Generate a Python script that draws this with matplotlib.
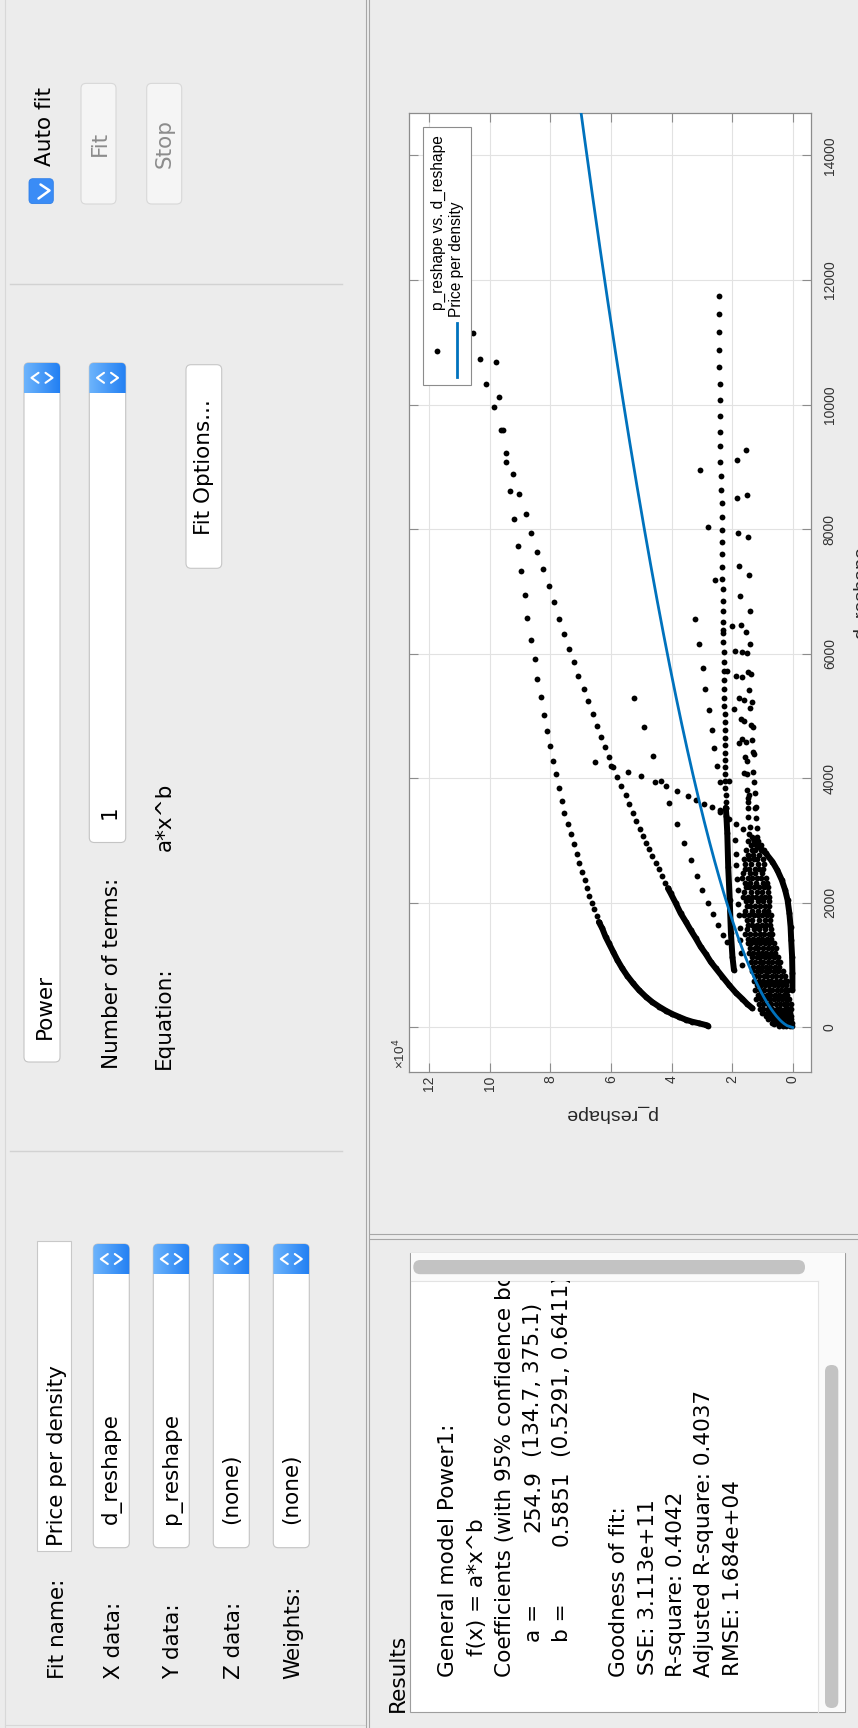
import numpy as np
import matplotlib
matplotlib.use("Agg")
import matplotlib.pyplot as plt
from matplotlib.patches import Rectangle, FancyBboxPatch
from matplotlib.colors import LinearSegmentedColormap
from matplotlib.ticker import FuncFormatter
from matplotlib.transforms import Bbox

W, H = 858, 1728
BG = "#ececec"
GUI_FONT = "DejaVu Sans"
GUI_SIZE = 15.5
RES_SIZE = 15.6
AX_FONT = "Liberation Sans"
BLUE = "#0072bd"
SCALE = 1e4  # p_reshape values are listed in units of 1e4

# ---------------- data: p_reshape (x1e4) against d_reshape ----------------
# outer arc, sparse part
outer_d = [11147, 10333, 9955, 9585, 9595, 9226, 9081, 8884, 8616, 8161, 7728, 7322, 6942,
           6577, 6224, 5910, 5598, 5309, 5020, 4759, 4513, 4277, 4064, 3839, 3635, 3448,
           3266, 3101, 2940, 2780, 2635, 2496, 2362, 2239, 2115, 2003, 1897, 1790, 1693]
outer_p = [10.56, 10.12, 9.87, 9.64, 9.57, 9.46, 9.46, 9.24, 9.33, 9.20, 9.08, 8.96, 8.85,
           8.76, 8.63, 8.52, 8.43, 8.31, 8.22, 8.10, 8.01, 7.92, 7.81, 7.71, 7.62, 7.54,
           7.41, 7.32, 7.23, 7.13, 7.05, 6.96, 6.87, 6.78, 6.72, 6.64, 6.55, 6.47, 6.40]
# outer arc, packed part near the origin
outer_band_d = [1693, 1592, 1457, 1351, 1217, 1083, 950, 827, 709, 602, 494, 409, 334, 270,
                217, 169, 125, 93, 67, 40, 29]
outer_band_p = [6.40, 6.29, 6.18, 6.07, 5.93, 5.79, 5.63, 5.46, 5.27, 5.08, 4.85, 4.64, 4.41,
                4.19, 3.98, 3.75, 3.53, 3.32, 3.09, 2.87, 2.80]

# inner arc
inner_d = [10729, 10686, 10115, 8558, 8237, 7932, 7637, 7354, 7086, 6824, 6561, 6311, 6080,
           5861, 5642, 5428, 5240, 5032, 4844, 4667, 4497, 4337, 4192, 4181, 4020, 3871,
           3727, 3582, 3438, 3314, 3191, 3079, 2966, 2860, 2753, 2645, 2539, 2432, 2324, 2234]
inner_p = [10.32, 9.81, 9.70, 9.04, 8.82, 8.63, 8.45, 8.25, 8.06, 7.89, 7.73, 7.56, 7.38,
           7.23, 7.08, 6.90, 6.75, 6.60, 6.45, 6.34, 6.19, 6.07, 6.01, 5.92, 5.79, 5.67,
           5.51, 5.40, 5.28, 5.16, 5.04, 4.93, 4.83, 4.74, 4.64, 4.52, 4.41, 4.31, 4.22, 4.12]
inner_band_d = [2234, 2154, 1993, 1833, 1698, 1565, 1432, 1297, 1180, 1056, 950, 815, 682,
                559, 457, 377, 308]
inner_band_p = [4.12, 4.03, 3.86, 3.70, 3.53, 3.37, 3.20, 3.04, 2.87, 2.71, 2.54, 2.32, 2.10,
                1.88, 1.66, 1.50, 1.33]

# diagonal run and crossing run
diag_d = [5293, 4818, 4362, 3598, 3261, 2966, 2688, 2436, 2207, 2003, 1817, 1650, 1489, 1377]
diag_p = [5.25, 4.92, 4.62, 4.07, 3.81, 3.58, 3.36, 3.15, 2.98, 2.80, 2.62, 2.47, 2.31, 2.18]
cross_d = [4261, 4101, 4032, 3945, 3961, 3876, 3801, 3720, 3651, 3582, 3534, 3454, 3342,
           3266, 3181, 3101, 3021]
cross_p = [6.54, 5.45, 5.00, 4.56, 4.35, 4.17, 3.81, 3.47, 3.20, 2.94, 2.66, 2.41, 2.10,
           1.86, 1.63, 1.44, 1.28]
lean_d = [8948, 8033, 7177, 6561, 6155, 5775, 5428, 5096, 4775, 4486, 4202, 3940, 3491]
lean_p = [3.05, 2.80, 2.56, 3.22, 3.09, 2.97, 2.89, 2.76, 2.67, 2.59, 2.49, 2.41, 2.40]

# near-vertical column
column_d = [11746, 11452, 11163, 10874, 10597, 10333, 10076, 9809, 9563, 9328, 9081, 8847,
            8627, 8413, 8193, 7990, 7787, 7595, 7391, 7203, 7033, 6850, 6680, 6508, 6380,
            6337, 6182, 6022, 5866, 5717, 5573, 5433, 5293, 5160, 5027, 4898, 4770, 4646,
            4529, 4411, 4293, 4181, 4069, 3956, 3844, 3732, 3624, 3528]
column_p = [2.43, 2.43, 2.43, 2.43, 2.42, 2.41, 2.41, 2.41, 2.40, 2.40, 2.39, 2.38,
            2.36, 2.35, 2.35, 2.34, 2.34, 2.33, 2.32, 2.32, 2.31, 2.31, 2.30, 2.30, 2.29,
            2.29, 2.29, 2.28, 2.28, 2.27, 2.27, 2.27, 2.26, 2.26, 2.25, 2.25, 2.25, 2.24,
            2.24, 2.23, 2.23, 2.23, 2.22, 2.22, 2.22, 2.21, 2.21, 2.21]
column_band_d = [3528, 3400, 3117, 2581, 2046, 1512, 1136, 923]
column_band_p = [2.21, 2.19, 2.16, 2.13, 2.08, 2.04, 1.99, 1.94]

# scattered pairs right of the column
right_d = [9108, 9269, 8498, 8542, 7942, 7873, 7407, 7258, 6926, 6680, 6449, 6455, 6343,
           6155, 6038, 6032, 6006, 5717, 5646, 5630, 5701, 5674, 5412, 5293, 5256, 5219,
           5133, 5107, 4947, 4924, 4855, 4818, 4635, 4561, 4587, 4614, 4427, 4390, 4346,
           4277, 4080, 4069, 4096, 3945, 3812, 3732, 3759, 3624, 3534, 3961, 3679, 3518,
           3518, 3383, 3357, 3223, 3197, 3062, 3062]
right_p = [1.85, 1.53, 1.83, 1.50, 1.80, 1.47, 1.77, 1.44, 1.74, 1.42, 1.99, 1.72, 1.53,
           1.42, 1.92, 1.68, 1.51, 2.16, 1.86, 1.66, 1.47, 1.39, 1.44, 1.77, 1.62, 1.35,
           1.42, 1.95, 1.72, 1.61, 1.39, 1.31, 1.66, 1.77, 1.55, 1.35, 1.31, 1.28, 1.58,
           1.50, 1.61, 1.50, 1.31, 1.28, 1.50, 1.44, 1.24, 1.47, 1.22, 2.10, 1.49, 1.49,
           1.24, 1.47, 1.21, 1.41, 1.19, 1.35, 1.19]
strand_d = [3010, 2790, 2610, 2390, 2210, 1980, 1810, 1590, 1410, 1190, 1010]
strand_p = [1.91, 1.87, 1.86, 1.83, 1.82, 1.79, 1.78, 1.75, 1.74, 1.71, 1.69]

# right-hand arc dropping to the axis
arc_d = [3021, 2929, 2796, 2661, 2528, 2367, 2207, 2046, 1833, 1618, 1404, 1136, 870, 602]
arc_p = [1.28, 1.17, 0.89, 0.67, 0.51, 0.36, 0.25, 0.17, 0.11, 0.07, 0.05, 0.02, 0.01, 0.01]

# fan of points near the origin, one row of p values per d level
fan_levels = [3000, 2925, 2850, 2775, 2700, 2625, 2550, 2475, 2400, 2325, 2250, 2175, 2100,
              2025, 1950, 1875, 1800, 1725, 1650, 1575, 1500, 1425, 1350, 1275, 1200, 1125,
              1050, 975, 900, 825, 750, 675, 600, 525, 450, 375, 300, 240, 180, 130, 80,
              50, 20]
fan_rows = [
    [1.46, 1.27, 1.13],
    [1.39, 1.21, 1.04],
    [1.53, 1.35, 1.24, 1.06, 0.94],
    [1.49, 1.31, 1.12],
    [1.61, 1.44, 1.29, 1.17, 0.99],
    [1.56, 1.37, 1.14, 0.96],
    [1.59, 1.45, 1.26, 1.11, 0.97],
    [1.63, 1.41, 1.23, 1.03],
    [1.66, 1.49, 1.36, 1.18, 1.06, 0.89],
    [1.58, 1.41, 1.21, 0.99, 0.85],
    [1.55, 1.43, 1.28, 1.10, 0.96, 0.82],
    [1.60, 1.37, 1.19, 1.00, 0.81],
    [1.64, 1.48, 1.33, 1.21, 1.04, 0.91, 0.77],
    [1.55, 1.38, 1.15, 0.97, 0.79],
    [1.52, 1.40, 1.24, 1.07, 0.92, 0.77],
    [1.57, 1.34, 1.16, 0.94, 0.80],
    [1.61, 1.44, 1.29, 1.13, 1.01, 0.86, 0.71],
    [1.51, 1.33, 1.10, 0.92, 0.75],
    [1.47, 1.35, 1.19, 1.02, 0.87, 0.74],
    [1.52, 1.29, 1.11, 0.91, 0.71],
    [1.56, 1.41, 1.24, 1.09, 0.96, 0.79, 0.67],
    [1.46, 1.31, 1.14, 1.00, 0.85, 0.71],
    [1.49, 1.37, 1.21, 1.07, 0.93, 0.79, 0.61],
    [1.41, 1.25, 1.13, 0.97, 0.83, 0.67, 0.55],
    [1.44, 1.31, 1.15, 1.03, 0.87, 0.73, 0.59],
    [1.35, 1.19, 1.07, 0.91, 0.77, 0.63, 0.47],
    [1.37, 1.25, 1.09, 0.97, 0.81, 0.69, 0.51, 0.41],
    [1.31, 1.15, 1.03, 0.87, 0.75, 0.59, 0.45],
    [1.33, 1.17, 1.05, 0.89, 0.77, 0.61, 0.49, 0.33],
    [1.24, 1.12, 0.96, 0.84, 0.68, 0.56, 0.40, 0.27],
    [1.27, 1.11, 0.99, 0.83, 0.71, 0.55, 0.43, 0.27, 0.19],
    [1.18, 1.06, 0.90, 0.78, 0.62, 0.50, 0.34, 0.23],
    [1.23, 1.07, 0.95, 0.79, 0.67, 0.51, 0.39, 0.25, 0.15],
    [1.14, 1.02, 0.86, 0.74, 0.58, 0.46, 0.30, 0.19],
    [1.21, 1.04, 0.91, 0.75, 0.63, 0.47, 0.35, 0.21, 0.11],
    [1.11, 0.99, 0.83, 0.71, 0.55, 0.43, 0.29, 0.18, 0.07],
    [1.09, 0.97, 0.81, 0.69, 0.53, 0.41, 0.27, 0.15, 0.06],
    [1.01, 0.85, 0.73, 0.57, 0.45, 0.31, 0.21, 0.08],
    [0.89, 0.77, 0.61, 0.49, 0.35, 0.25, 0.11, 0.04],
    [0.81, 0.65, 0.53, 0.39, 0.29, 0.15, 0.06],
    [0.69, 0.57, 0.41, 0.31, 0.17, 0.09, 0.02],
    [0.61, 0.45, 0.35, 0.21, 0.13, 0.04],
    [0.46, 0.31, 0.21, 0.09, 0.02],
]

# Power1 fit reported in the results pane
fit_a = 254.9
fit_b = 0.5851

p_ticks = [0, 2, 4, 6, 8, 10, 12]
d_ticks = [0, 2000, 4000, 6000, 8000, 10000, 12000, 14000]

fan_d = [lvl for lvl, row in zip(fan_levels, fan_rows) for _ in row]
fan_p = [v for row in fan_rows for v in row]

# ---------------- figure and the pixel-space GUI layer ----------------
fig = plt.figure(figsize=(W / 100, H / 100), dpi=100, facecolor=BG)
gui = fig.add_axes([0, 0, 1, 1])
gui.set_facecolor(BG)
gui.axis("off")

blue_cmap = LinearSegmentedColormap.from_list("combo", ["#6db4fc", "#2380f3"])
grad = np.linspace(0, 1, 64).reshape(1, -1)


def vtext(x, y, s, ha="left", size=GUI_SIZE, color="black", family=GUI_FONT, ax=None):
    ax = ax or gui
    return ax.text(x, y, s, rotation=90, rotation_mode="anchor", ha=ha, va="baseline",
                   fontsize=size, color=color, family=family, zorder=6)


def chevrons(cx, cy):
    kw = dict(color="white", lw=1.5, solid_capstyle="round", solid_joinstyle="round", zorder=5)
    gui.plot([cx - 3.5, cx - 10.5, cx - 3.5], [cy - 5, cy, cy + 5], **kw)
    gui.plot([cx + 3.5, cx + 10.5, cx + 3.5], [cy - 5, cy, cy + 5], **kw)


def combo(x0, x1, y0, y1):
    shape = FancyBboxPatch((x0, y0), x1 - x0, y1 - y0,
                           boxstyle="round,pad=0,rounding_size=5",
                           fc="white", ec="#c4c4c4", lw=0.8, zorder=2)
    gui.add_patch(shape)
    im = gui.imshow(grad, cmap=blue_cmap, extent=(x0, x1, y0 + 30, y0), aspect="auto",
                    interpolation="bilinear", zorder=3)
    im.set_clip_path(shape)
    chevrons((x0 + x1) / 2, y0 + 15)


def button(x0, x1, y0, y1, fc, ec):
    gui.add_patch(FancyBboxPatch((x0, y0), x1 - x0, y1 - y0,
                                 boxstyle="round,pad=0,rounding_size=5",
                                 fc=fc, ec=ec, lw=0.8, zorder=2))


# panel dividers
for x in (365.7, 369.3):
    gui.plot([x, x], [0, H], color="#a6a6a6", lw=0.8, zorder=1)
for y in (1234.0, 1238.5):
    gui.plot([370, W], [y, y], color="#a6a6a6", lw=0.8, zorder=1)
gui.plot([5, 5], [0, H], color="#d8d8d8", lw=0.8, zorder=1)
gui.plot([5, 365], [1724.5, 1724.5], color="#d8d8d8", lw=0.8, zorder=1)
for y in (283.6, 1151.0):
    gui.plot([10, 342], [y, y], color="#d2d2d2", lw=1.0, zorder=1)

# auto fit checkbox and buttons
gui.add_patch(FancyBboxPatch((29, 178.7), 24.3, 24.9, boxstyle="round,pad=0,rounding_size=4",
                             fc="#3a8cf6", ec="#2f7fe8", lw=0.6, zorder=2))
gui.plot([40.5, 49.5, 38.5], [184.5, 190.5, 198.5], color="white", lw=1.8,
         solid_capstyle="round", solid_joinstyle="round", zorder=4)
vtext(51.0, 166.5, "Auto fit")
button(81, 116, 83.4, 204, "#f5f5f5", "#d8d8d8")
button(146.7, 181.7, 83.4, 204, "#f5f5f5", "#d8d8d8")
vtext(105.5, 143.7, "Fit", ha="center", color="#8c8c8c")
vtext(170.5, 143.7, "Stop", ha="center", color="#8c8c8c")

# fit type section
combo(24, 60, 362.8, 1062)
vtext(51.0, 1039, "Power")
combo(89.3, 125.7, 362.8, 842.5)
vtext(116.0, 812, "1", ha="center")
vtext(118.0, 1069.3, "Number of terms:")
vtext(169.5, 1069.3, "Equation:")
vtext(171.0, 851.4, "a*x^b")
button(186, 221.7, 364.7, 568.3, "white", "#c6c6c6")
vtext(210.0, 466.9, "Fit Options...", ha="center")

# data selection section
gui.add_patch(Rectangle((37.3, 1241), 33.4, 309.5, fc="white", ec="#c8c8c8", lw=0.8, zorder=2))
vtext(63.0, 1546.5, "Price per density")
vtext(64.5, 1678.7, "Fit name:")
rows = [("X data:", "d_reshape", 93.3), ("Y data:", "p_reshape", 153.3),
        ("Z data:", "(none)", 213.3), ("Weights:", "(none)", 273.3)]
for label, value, x0 in rows:
    combo(x0, x0 + 36, 1244, 1547.7)
    vtext(x0 + 26.2, 1678.7, label)
    vtext(x0 + 23.4, 1524.5, value)

# results pane
vtext(404, 1712, "Results", size=RES_SIZE)
gui.add_patch(Rectangle((410, 1252.7), 435, 459.3, fc="white", ec="#9d9d9d", lw=0.8, zorder=2))
gui.add_patch(Rectangle((410.5, 1253.2), 434, 27.8, fc="#fafafa", ec="none", zorder=2))
gui.add_patch(Rectangle((818.3, 1281), 26.2, 430.5, fc="#fafafa", ec="none", zorder=2))
gui.plot([410.5, 818.3], [1281, 1281], color="#e3e3e3", lw=0.8, zorder=3)
gui.plot([818.3, 818.3], [1281, 1711.5], color="#e3e3e3", lw=0.8, zorder=3)
gui.add_patch(FancyBboxPatch((413.3, 1260), 391.7, 14.2, boxstyle="round,pad=0,rounding_size=7",
                             fc="#c3c3c3", ec="none", zorder=4))
gui.add_patch(FancyBboxPatch((825, 1365), 13.3, 343, boxstyle="round,pad=0,rounding_size=6.5",
                             fc="#c3c3c3", ec="none", zorder=4))

text_clip = Bbox.from_extents(411, H - 1711, 818, H - 1281)
results_lines = [
    (454.0, 1677, "General model Power1:"),
    (482.5, 1656, "f(x) = a*x^b"),
    (511.0, 1677, "Coefficients (with 95% confidence bounds):"),
    (539.5, 1642, "a ="), (539.5, 1532, "254.9"), (539.5, 1457, "(134.7, 375.1)"),
    (568.0, 1642, "b ="), (568.0, 1546, "0.5851"), (568.0, 1457, "(0.5291, 0.6411)"),
    (625.0, 1677, "Goodness of fit:"),
    (653.5, 1675, "SSE: 3.113e+11"),
    (682.0, 1677, "R-square: 0.4042"),
    (710.5, 1677, "Adjusted R-square: 0.4037"),
    (739.0, 1676, "RMSE: 1.684e+04"),
]
for x, y, s in results_lines:
    t = vtext(x, y, s, size=RES_SIZE)
    t.set_clip_box(text_clip)
    t.set_clip_on(True)

gui.set_xlim(0, W)
gui.set_ylim(H, 0)

# ---------------- the fit plot ----------------
ax = fig.add_axes([409 / W, 1 - 1072.1 / H, 402 / W, 958.9 / H], zorder=2)
ax.set_facecolor("white")
for sp in ax.spines.values():
    sp.set_color("#8c8c8c")
    sp.set_linewidth(0.9)

dot = dict(ls="none", marker="o", ms=4.2, mfc="black", mec="black", mew=0, zorder=3)
band = dict(color="black", lw=4.3, solid_capstyle="round", solid_joinstyle="round", zorder=3)

scatter_groups = [(outer_p, outer_d), (inner_p, inner_d), (diag_p, diag_d),
                  (cross_p, cross_d), (lean_p, lean_d), (column_p, column_d),
                  (right_p, right_d), (strand_p, strand_d), (fan_p, fan_d),
                  (outer_band_p, outer_band_d), (inner_band_p, inner_band_d),
                  (column_band_p, column_band_d), (arc_p, arc_d)]
for pp, dd in scatter_groups:
    ax.plot(np.asarray(pp) * SCALE, dd, **dot)
for pp, dd in [(outer_band_p, outer_band_d), (inner_band_p, inner_band_d),
               (column_band_p, column_band_d), (arc_p, arc_d)]:
    ax.plot(np.asarray(pp) * SCALE, dd, **band)

d_line = np.linspace(0, 15000, 500)
ax.plot(fit_a * d_line ** fit_b, d_line, color=BLUE, lw=2.0, zorder=4)

ax.set_xlim(12.67e4, -0.604e4)
ax.set_ylim(-716, 14677)
ax.set_xticks([v * SCALE for v in p_ticks])
ax.set_yticks(d_ticks)
ax.xaxis.set_major_formatter(FuncFormatter(lambda v, _: f"{v / SCALE:g}"))
ax.yaxis.set_major_formatter(FuncFormatter(lambda v, _: f"{v:g}"))
ax.grid(True, color="#e2e2e2", lw=0.8)
ax.set_axisbelow(True)
ax.tick_params(direction="in", length=6.5, width=0.8, color="#8c8c8c", top=True, right=True,
               labelcolor="#333333", labelsize=10, labelfontfamily=AX_FONT)
ax.tick_params(axis="x", labelrotation=90, pad=2.5)
ax.tick_params(axis="y", labelleft=False, labelright=True, labelrotation=90, pad=8.5)
for lab in ax.xaxis.get_ticklabels():
    lab.set_ha("center")
    lab.set_va("top")
for lab in ax.yaxis.get_ticklabels():
    lab.set_ha("left")
    lab.set_va("center")

# ---------------- overlay: legend and axis captions ----------------
top = fig.add_axes([0, 0, 1, 1], zorder=5)
top.set_facecolor("none")
top.axis("off")
top.add_patch(Rectangle((422.5, 127), 48, 258, fc="white", ec="#8c8c8c", lw=0.8))
top.plot([437], [351], **dot)
top.plot([456.7, 456.7], [323, 377], color=BLUE, lw=2.0)
vtext(443.0, 309.7, "p_reshape vs. d_reshape", size=11.2, color="black", family=AX_FONT, ax=top)
vtext(461.5, 317.0, "Price per density", size=11.2, color="black", family=AX_FONT, ax=top)
vtext(405.5, 1068.6, "\u00d710$^{4}$", size=9.7, color="#333333", family=AX_FONT, ax=top)
top.text(610, 1114, "p_reshape", rotation=180, ha="center", va="center", fontsize=14,
         family=AX_FONT, color="#262626")
vtext(865.5, 592.6, "d_reshape", ha="center", size=14, color="#262626", family=AX_FONT, ax=top)
top.set_xlim(0, W)
top.set_ylim(H, 0)

fig.savefig("out.png", dpi=100, facecolor=BG)
